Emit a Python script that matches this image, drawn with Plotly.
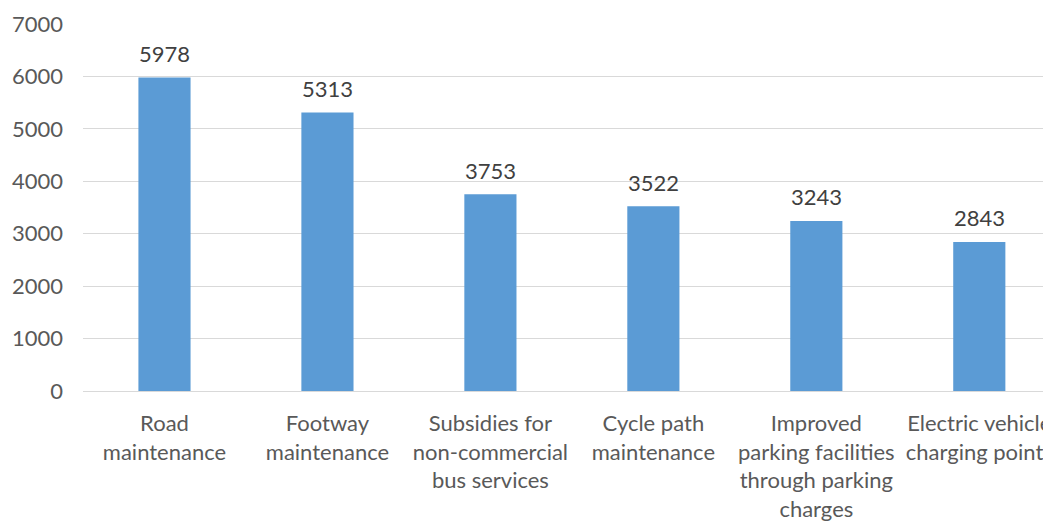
import plotly.graph_objects as go

categories = [
    "Road<br>maintenance",
    "Footway<br>maintenance",
    "Subsidies for<br>non-commercial<br>bus services",
    "Cycle path<br>maintenance",
    "Improved<br>parking facilities<br>through parking<br>charges",
    "Electric vehicle<br>charging points",
]
values = [5978, 5313, 3753, 3522, 3243, 2843]
y_ticks = [0, 1000, 2000, 3000, 4000, 5000, 6000, 7000]

font_family = "Lato, 'Open Sans', sans-serif"
text_color = "#595959"
x_pos = list(range(len(categories)))

fig = go.Figure(
    go.Bar(
        x=x_pos,
        y=values,
        marker=dict(color="#5B9BD5", line=dict(width=0)),
        width=0.32,
        cliponaxis=False,
    )
)

for xi, v in zip(x_pos, values):
    fig.add_annotation(
        x=xi, y=v, xref="x", yref="y",
        text=str(v), showarrow=False,
        yanchor="middle", yshift=24,
        font=dict(family=font_family, size=22, color="#404040"),
    )

fig.update_layout(
    width=1043,
    height=513,
    margin=dict(l=75, r=0, t=16, b=130, autoexpand=False),
    paper_bgcolor="white",
    plot_bgcolor="white",
    showlegend=False,
    font=dict(family=font_family, size=22, color=text_color),
    xaxis=dict(
        tickmode="array",
        tickvals=x_pos,
        ticktext=categories,
        range=[-0.5, 5.44],
        showgrid=False,
        showline=False,
        zeroline=False,
        ticks="",
        automargin=False,
        ticklabeloverflow="allow",
        ticklabelstandoff=17,
        tickfont=dict(family=font_family, size=22, color=text_color),
    ),
    yaxis=dict(
        range=[0, 7000],
        tickvals=y_ticks,
        showgrid=True,
        gridcolor="#D9D9D9",
        gridwidth=1,
        zeroline=True,
        zerolinecolor="#D9D9D9",
        zerolinewidth=1,
        showline=False,
        ticks="",
        automargin=False,
        ticklabelstandoff=19,
        tickfont=dict(family=font_family, size=22, color=text_color),
    ),
)

fig.write_html("out.html")
